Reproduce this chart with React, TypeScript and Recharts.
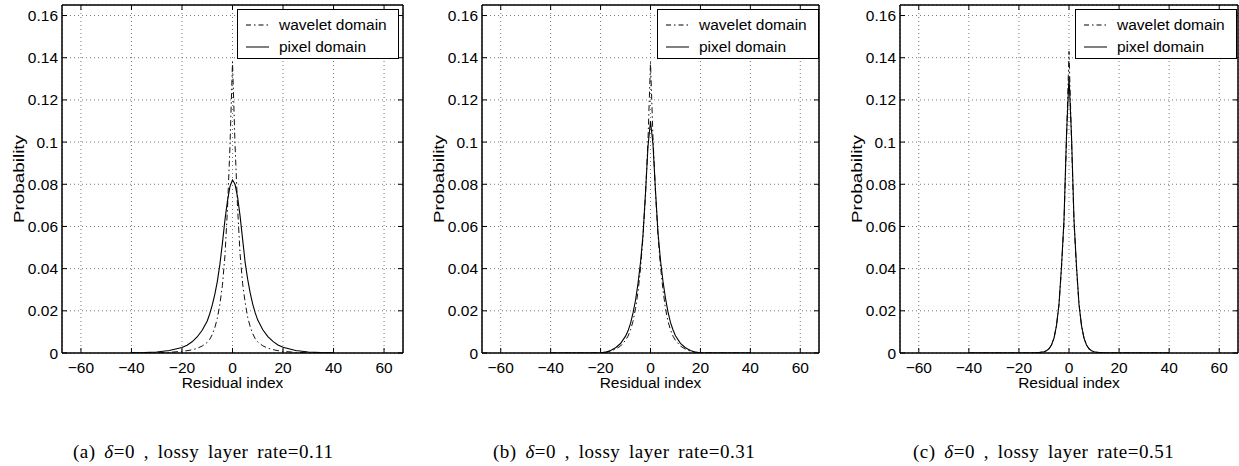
import React from "react";
import { LineChart, Line, XAxis, YAxis, CartesianGrid, Legend } from "recharts";

// Residual index (x) sample points, shared by all three panels
const residualIndex = [
  -40, -35, -30, -25, -20, -18, -16, -14, -12, -10, -9, -8, -7, -6, -5, -4, -3, -2, -1, 0,
  1, 2, 3, 4, 5, 6, 7, 8, 9, 10, 12, 14, 16, 18, 20, 25, 30, 35, 40,
];

// (a) lossy layer rate = 0.11
const waveletA = [
  0, 0, 0.0001, 0.0003, 0.0008, 0.0011, 0.0015, 0.0022, 0.0033, 0.005, 0.0065, 0.0088, 0.012, 0.0165, 0.023, 0.032, 0.046, 0.068, 0.098, 0.138,
  0.099, 0.069, 0.047, 0.033, 0.024, 0.017, 0.0125, 0.0092, 0.0068, 0.0052, 0.0034, 0.0023, 0.0016, 0.0011, 0.0008, 0.0003, 0.0001, 0, 0,
];
const pixelA = [
  0.0001, 0.0002, 0.0005, 0.0012, 0.0026, 0.0037, 0.0053, 0.0076, 0.0108, 0.0152, 0.0186, 0.0228, 0.0278, 0.034, 0.042, 0.052, 0.063, 0.072, 0.079, 0.082,
  0.08, 0.074, 0.065, 0.054, 0.043, 0.035, 0.0285, 0.0232, 0.019, 0.0156, 0.011, 0.0078, 0.0055, 0.0038, 0.0027, 0.0012, 0.0005, 0.0002, 0.0001,
];

// (b) lossy layer rate = 0.31
const waveletB = [
  0, 0, 0, 0, 0.0001, 0.0003, 0.0009, 0.0018, 0.0033, 0.006, 0.008, 0.011, 0.015, 0.021, 0.029, 0.04, 0.055, 0.075, 0.101, 0.138,
  0.102, 0.076, 0.056, 0.041, 0.03, 0.021, 0.015, 0.011, 0.008, 0.006, 0.0033, 0.0018, 0.0009, 0.0003, 0.0001, 0, 0, 0, 0,
];
const pixelB = [
  0, 0, 0, 0, 0.0001, 0.0004, 0.0012, 0.0025, 0.0045, 0.008, 0.0105, 0.014, 0.019, 0.025, 0.033, 0.043, 0.056, 0.076, 0.098, 0.11,
  0.099, 0.077, 0.057, 0.044, 0.034, 0.026, 0.0195, 0.0145, 0.011, 0.0082, 0.0046, 0.0025, 0.0012, 0.0004, 0.0001, 0, 0, 0, 0,
];

// (c) lossy layer rate = 0.51
const waveletC = [
  0, 0, 0, 0, 0, 0, 0, 0.0001, 0.0002, 0.0006, 0.0011, 0.002, 0.0038, 0.007, 0.013, 0.023, 0.04, 0.062, 0.101, 0.143,
  0.101, 0.062, 0.04, 0.023, 0.013, 0.007, 0.0038, 0.002, 0.0011, 0.0006, 0.0002, 0.0001, 0, 0, 0, 0, 0, 0, 0,
];
const pixelC = [
  0, 0, 0, 0, 0, 0, 0, 0.0001, 0.0002, 0.0006, 0.0011, 0.002, 0.0038, 0.007, 0.013, 0.023, 0.041, 0.063, 0.103, 0.131,
  0.103, 0.063, 0.041, 0.023, 0.013, 0.007, 0.0038, 0.002, 0.0011, 0.0006, 0.0002, 0.0001, 0, 0, 0, 0, 0, 0, 0,
];

const xTicks = [-60, -40, -20, 0, 20, 40, 60];
const yTicks = [0, 0.02, 0.04, 0.06, 0.08, 0.1, 0.12, 0.14, 0.16];
const seriesNames = ["wavelet domain", "pixel domain"];
const panelTags = ["(a)", "(b)", "(c)"];
const layerRates = ["0.11", "0.31", "0.51"];

const FONT = '"Liberation Sans", Arial, Helvetica, sans-serif';
const SERIF = '"Liberation Serif", "Times New Roman", serif';
const TICK = 5;
const DASH_DOT = "6 3 1.5 3";

const fmtX = (v: number) => (v < 0 ? `\u2212${-v}` : `${v}`);
const fmtY = (v: number) => (v === 0 ? "0" : `${parseFloat(v.toFixed(2))}`);

// MATLAB style ticks: pointing into the plot box
function BottomTick(props: any) {
  const { x, y, payload } = props;
  return (
    <g>
      <line x1={x} x2={x} y1={y} y2={y - TICK} stroke="#000" />
      <text x={x} y={y + 20} textAnchor="middle" fontSize={15.5} fill="#000" fontFamily={FONT}>
        {fmtX(payload.value)}
      </text>
    </g>
  );
}
function TopTick(props: any) {
  const { x, y } = props;
  return <line x1={x} x2={x} y1={y} y2={y + TICK} stroke="#000" />;
}
function LeftTick(props: any) {
  const { x, y, payload } = props;
  return (
    <g>
      <line x1={x} x2={x + TICK} y1={y} y2={y} stroke="#000" />
      <text x={x - 4} y={y + 5.5} textAnchor="end" fontSize={15.5} fill="#000" fontFamily={FONT}>
        {fmtY(payload.value)}
      </text>
    </g>
  );
}
function RightTick(props: any) {
  const { x, y } = props;
  return <line x1={x} x2={x - TICK} y1={y} y2={y} stroke="#000" />;
}

const yLabel = (props: any) => {
  const vb = props.viewBox || { x: 0, y: 5, width: 62, height: 348 };
  const cx = vb.x + 18.5;
  const cy = vb.y + vb.height / 2;
  return (
    <text
      x={cx}
      y={cy}
      transform={`rotate(-90 ${cx} ${cy})`}
      textAnchor="middle"
      dominantBaseline="central"
      fontSize={15.5}
      fontFamily={FONT}
      fill="#000"
      textLength={88}
      lengthAdjust="spacingAndGlyphs"
    >
      Probability
    </text>
  );
};

const xLabel = (props: any) => {
  const vb = props.viewBox || { x: 62, y: 353, width: 341, height: 40 };
  return (
    <text x={vb.x + vb.width / 2} y={vb.y + 35} textAnchor="middle" fontSize={15.5} fontFamily={FONT} fill="#000">
      Residual index
    </text>
  );
};

const renderLegend = () => (
  <div
    style={{
      width: 162,
      height: 50,
      boxSizing: "border-box",
      border: "1.5px solid #000",
      background: "#fff",
      paddingTop: 4,
      fontFamily: FONT,
      fontSize: 15.5,
      color: "#000",
    }}
  >
    {seriesNames.map((name, i) => (
      <div key={name} style={{ display: "flex", alignItems: "center", height: 22 }}>
        <svg width={41} height={22} style={{ flex: "none" }}>
          <line
            x1={8}
            x2={31}
            y1={11}
            y2={11}
            stroke="#000"
            strokeWidth={1}
            strokeDasharray={i === 0 ? "5 3 1.5 3" : undefined}
          />
        </svg>
        <span style={{ lineHeight: "22px", whiteSpace: "nowrap" }}>{name}</span>
      </div>
    ))}
  </div>
);

interface PanelProps {
  wavelet: number[];
  pixel: number[];
  width: number;
  right: number;
}

function Panel({ wavelet, pixel, width, right }: PanelProps) {
  const data = residualIndex.map((x, i) => ({
    x,
    [seriesNames[0]]: wavelet[i],
    [seriesNames[1]]: pixel[i],
  }));
  return (
    <LineChart width={width} height={400} data={data} margin={{ top: 4, right, bottom: 7, left: 0 }}>
      <CartesianGrid stroke="#777" strokeDasharray="1 3" />
      <XAxis
        dataKey="x"
        type="number"
        domain={[-67.5, 67.5]}
        allowDataOverflow
        ticks={xTicks}
        interval={0}
        height={40}
        tickSize={0}
        tickMargin={0}
        tickLine={false}
        tick={(p: any) => <BottomTick {...p} />}
        axisLine={{ stroke: "#000", strokeWidth: 1.5 }}
        label={xLabel}
      />
      <XAxis
        xAxisId="top"
        orientation="top"
        dataKey="x"
        type="number"
        domain={[-67.5, 67.5]}
        allowDataOverflow
        ticks={xTicks}
        interval={0}
        height={1}
        tickSize={0}
        tickMargin={0}
        tickLine={false}
        tick={(p: any) => <TopTick {...p} />}
        axisLine={{ stroke: "#000", strokeWidth: 1.5 }}
      />
      <YAxis
        type="number"
        domain={[0, 0.165]}
        allowDataOverflow
        ticks={yTicks}
        interval={0}
        width={62}
        tickSize={0}
        tickMargin={0}
        tickLine={false}
        tick={(p: any) => <LeftTick {...p} />}
        axisLine={{ stroke: "#000", strokeWidth: 1.5 }}
        label={yLabel}
      />
      <YAxis
        yAxisId="right"
        orientation="right"
        type="number"
        domain={[0, 0.165]}
        allowDataOverflow
        ticks={yTicks}
        interval={0}
        width={1}
        tickSize={0}
        tickMargin={0}
        tickLine={false}
        tick={(p: any) => <RightTick {...p} />}
        axisLine={{ stroke: "#000", strokeWidth: 1.5 }}
      />
      <Legend
        layout="horizontal"
        verticalAlign="middle"
        align="center"
        content={renderLegend}
        wrapperStyle={{ left: 237, top: 9, width: 162, height: 50 }}
      />
      <Line
        dataKey={seriesNames[0]}
        type="linear"
        stroke="#111"
        strokeWidth={1}
        strokeDasharray={DASH_DOT}
        dot={false}
        isAnimationActive={false}
      />
      <Line
        dataKey={seriesNames[1]}
        type="linear"
        stroke="#000"
        strokeWidth={1.1}
        dot={false}
        isAnimationActive={false}
      />
    </LineChart>
  );
}

const panels = [
  { wavelet: waveletA, pixel: pixelA, left: 0, width: 420, right: 16 },
  { wavelet: waveletB, pixel: pixelB, left: 420, width: 420, right: 20 },
  { wavelet: waveletC, pixel: pixelC, left: 838, width: 401, right: 0 },
];
const captionX = [73, 493, 913];

export default function App() {
  return (
    <div
      style={{
        position: "absolute",
        left: 0,
        top: 0,
        width: 1239,
        height: 466,
        background: "#fff",
        overflow: "hidden",
      }}
    >
      {panels.map((p, i) => (
        <div key={i} style={{ position: "absolute", left: p.left, top: 0 }}>
          <Panel wavelet={p.wavelet} pixel={p.pixel} width={p.width} right={p.right} />
        </div>
      ))}
      <svg width={1239} height={466} style={{ position: "absolute", left: 0, top: 0, pointerEvents: "none" }}>
        {panelTags.map((tag, i) => (
          <text
            key={tag}
            x={captionX[i]}
            y={458}
            fontFamily={SERIF}
            fontSize={19}
            fill="#000"
            style={{ wordSpacing: "3.5px", letterSpacing: "0.5px" }}
          >
            {tag} <tspan fontStyle="italic">δ</tspan>=0 , lossy layer rate={layerRates[i]}
          </text>
        ))}
      </svg>
    </div>
  );
}
